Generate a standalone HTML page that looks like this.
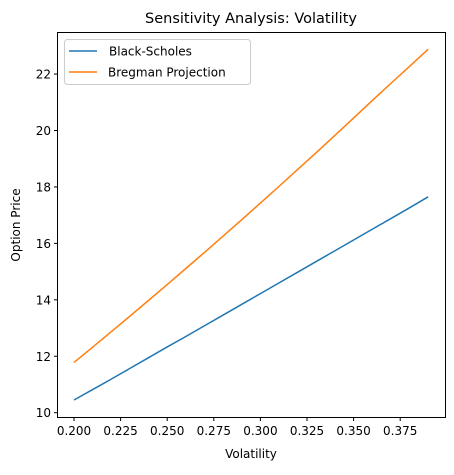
<!DOCTYPE html>
<html><head><meta charset="utf-8"><style>
body{margin:0;background:#fff;}
svg text{font-family:"DejaVu Sans","Liberation Sans",sans-serif;fill:#000;}
</style></head><body>
<svg id="chart" width="454" height="470" xmlns="http://www.w3.org/2000/svg">
<text x="251" y="23" font-size="14.5" text-anchor="middle">Sensitivity Analysis: Volatility</text>
<g id="axes"></g>
<g id="series"></g>
<rect x="57.5" y="32.5" width="388" height="385" fill="none" stroke="#000" stroke-width="1"/>
<text x="251" y="458" font-size="12" text-anchor="middle">Volatility</text>
<text transform="translate(20,225) rotate(-90)" font-size="12" text-anchor="middle">Option Price</text>
<g>
<rect x="64.5" y="39.5" width="186" height="45" rx="3" fill="#fff" fill-opacity="0.8" stroke="#ccc"/>
<g>
<line x1="69" y1="51" x2="97" y2="51" stroke="#1f77b4" stroke-width="1.5"/>
<text x="109" y="55.5" font-size="12">Black-Scholes</text></g>
<g>
<line x1="69" y1="72" x2="97" y2="72" stroke="#ff7f0e" stroke-width="1.5"/>
<text x="108" y="76.5" font-size="12">Bregman Projection</text></g>
</g>
</svg>
<script>
const vols=[0.20,0.21,0.22,0.23,0.24,0.25,0.26,0.27,0.28,0.29,0.30,0.31,0.32,0.33,0.34,0.35,0.36,0.37,0.38,0.39];
const blackScholes=[10.45,10.82,11.19,11.57,11.95,12.33,12.70,13.08,13.46,13.84,14.22,14.60,14.98,15.36,15.74,16.12,16.50,16.88,17.26,17.65];
const bregman=[11.78,12.32,12.87,13.42,13.98,14.54,15.11,15.68,16.26,16.84,17.43,18.02,18.62,19.22,19.83,20.44,21.06,21.67,22.27,22.88];
const xTicks=[0.200,0.225,0.250,0.275,0.300,0.325,0.350,0.375];
const xTickLabels=["0.200","0.225","0.250","0.275","0.300","0.325","0.350","0.375"];
const yTicks=[10,12,14,16,18,20,22];
const yTickLabels=["10","12","14","16","18","20","22"];
const NS="http://www.w3.org/2000/svg";
const X=v=>74+(v-0.2)*1864;
const Y=v=>412.7-(v-10)*28.22;
const axes=document.getElementById('axes');
function mk(t,a,p){const e=document.createElementNS(NS,t);for(const k in a)e.setAttribute(k,a[k]);p.appendChild(e);return e;}
xTicks.forEach((t,i)=>{
 const g=mk('g',{},axes);
 
 
 mk('line',{x1:X(t),x2:X(t),y1:417.5,y2:421,stroke:'#000'},g);
 const tx=mk('text',{x:X(t),y:435,'font-size':12,'text-anchor':'middle'},g);tx.textContent=xTickLabels[i];
});
yTicks.forEach((t,i)=>{
 const g=mk('g',{},axes);
 
 
 mk('line',{x1:54,x2:57.5,y1:Y(t),y2:Y(t),stroke:'#000'},g);
 const tx=mk('text',{x:51,y:Y(t)+4.5,'font-size':12,'text-anchor':'end'},g);tx.textContent=yTickLabels[i];
});
const series=document.getElementById('series');
function line(vals,color,name){
 const p=mk('polyline',{points:vals.map((v,i)=>X(vols[i])+','+Y(v)).join(' '),fill:'none',stroke:color,'stroke-width':1.5},series);
 
 
}
line(blackScholes,'#1f77b4','black-scholes-line');
line(bregman,'#ff7f0e','bregman-projection-line');
</script>
</body></html>
